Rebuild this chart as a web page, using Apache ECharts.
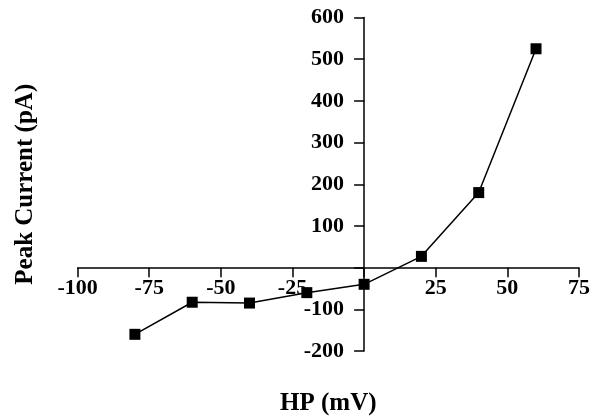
<!DOCTYPE html>
<html>
<head>
<meta charset="utf-8">
<script src="https://cdn.jsdelivr.net/npm/echarts@6/dist/echarts.min.js"></script>
<style>
html,body{margin:0;padding:0;background:#fff;}
#chart{width:593px;height:418px;}
</style>
</head>
<body>
<div id="chart"></div>
<script>
const hpValues = [-80, -60, -40, -20, 0, 20, 40, 60];
const peakCurrent = [-160, -83, -85, -60, -40, 27, 180, 525];
const xAxisTitle = 'HP (mV)';
const yAxisTitle = 'Peak Current (pA)';

const font = 'Liberation Serif';
const gridLeft = 77.6, gridRight = 14, gridTop = 17.5, gridBottom = 67;
const chart = echarts.init(document.getElementById('chart'), null, {renderer: 'canvas'});
chart.setOption({
  animation: false,
  backgroundColor: '#ffffff',
  grid: {left: gridLeft, right: gridRight, top: gridTop, bottom: gridBottom, containLabel: false, outerBoundsMode: 'none'},
  xAxis: {
    type: 'value', min: -100, max: 75, interval: 25, position: 'bottom',
    name: xAxisTitle, nameLocation: 'middle', nameGap: 123,
    nameTextStyle: {fontFamily: font, fontWeight: 'bold', fontSize: 25, color: '#000'},
    axisLine: {onZero: false, lineStyle: {color: '#000', width: 1.5}},
    axisTick: {show: true, inside: false, length: 9.5, lineStyle: {color: '#000', width: 1.5}},
    axisLabel: {margin: 10, fontFamily: font, fontWeight: 'bold', fontSize: 22, color: '#000',
      showMinLabel: true, showMaxLabel: true, hideOverlap: false,
      formatter: v => v === 0 ? '' : String(v)},
    splitLine: {show: false}
  },
  yAxis: {
    type: 'value', min: -200, max: 600, interval: 100, position: 'left',
    name: yAxisTitle, nameLocation: 'middle', nameGap: 326,
    nameTextStyle: {fontFamily: font, fontWeight: 'bold', fontSize: 25, color: '#000'},
    axisLine: {onZero: false, lineStyle: {color: '#000', width: 1.5}},
    axisTick: {show: true, inside: false, length: 10, lineStyle: {color: '#000', width: 1.5}},
    axisLabel: {margin: 20, fontFamily: font, fontWeight: 'bold', fontSize: 22, color: '#000',
      showMinLabel: true, showMaxLabel: true, hideOverlap: false,
      formatter: v => v === 0 ? '' : String(v)},
    splitLine: {show: false}
  },
  series: [{
    type: 'line',
    data: hpValues.map((x, i) => [x, peakCurrent[i]]),
    symbol: 'rect', symbolSize: 11,
    itemStyle: {color: '#000'},
    lineStyle: {color: '#000', width: 1.5},
    z: 5
  }]
});
// Move both axes (line, ticks, labels, names) onto the zero crossing.
const zero = chart.convertToPixel({gridIndex: 0}, [0, 0]);
const h = chart.getHeight();
chart.setOption({
  xAxis: {offset: zero[1] - (h - gridBottom)},
  yAxis: {offset: gridLeft - zero[0]}
});
</script>
</body>
</html>
